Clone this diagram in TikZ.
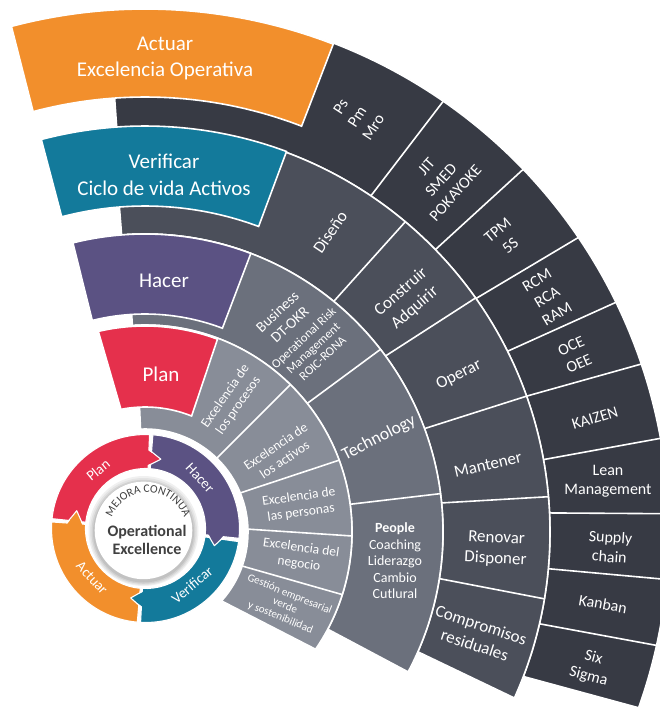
\documentclass[tikz,border=0pt]{standalone}
\usepackage{fontspec}
\setmainfont{Carlito}
\usetikzlibrary{decorations.text}
\definecolor{cOrange}{HTML}{F28F2C}
\definecolor{cTeal}{HTML}{137A9B}
\definecolor{cPurple}{HTML}{5B5283}
\definecolor{cRed}{HTML}{E5304C}
\definecolor{bandA}{HTML}{888D98}
\definecolor{bandB}{HTML}{6B707C}
\definecolor{bandC}{HTML}{4B4F5A}
\definecolor{bandD}{HTML}{373A44}
\definecolor{txtDark}{HTML}{404040}
% #1 style, #2 outer start, #3 outer end, #4 inner end, #5 inner start, #6 inner r, #7 outer r
\newcommand{\secq}[7]{\path[#1] (#2:#7) arc[start angle=#2,end angle=#3,radius=#7] -- (#4:#6) arc[start angle=#4,end angle=#5,radius=#6] -- cycle;}
\newcommand{\divl}[4]{\draw[sepline] (#1:#3) -- (#2:#4);}
\newcommand{\cyctip}[3]{% colour, end angle, tip angle
  \fill[#1] ({#2+1.5}:63) -- (#3:71) -- ({#2+1.5}:79) -- cycle;
  \draw[white, line width=1.1, line join=round] (#2:63) -- (#3:71) -- (#2:79);}
\begin{document}
\begin{tikzpicture}[x=1pt,y=1pt,
  sepline/.style={draw=white, line width=1.6},
  bandbox/.style={draw=white, line width=1.6},
  cycbox/.style={draw=white, line width=1.1},
  tabtxt/.style={text=white, align=center, inner sep=0pt, font=\fontsize{21}{26.5}\selectfont},
  outtxt/.style={text=white, align=center, inner sep=0pt, font=\fontsize{16}{19.5}\selectfont},
  midtxt/.style={text=white, align=center, inner sep=0pt, font=\fontsize{17}{21}\selectfont},
  bandtxt/.style={text=white, align=center, inner sep=0pt, font=\fontsize{13.5}{16}\selectfont},
  cyctxt/.style={text=white, inner sep=0pt, font=\fontsize{14.5}{16}\selectfont}]
\useasboundingbox (0,0) rectangle (660,-713);
\fill[white] (0,0) rectangle (660,-713);
\clip (0,0) rectangle (660,-713);

\begin{scope}[shift={(145,-532)}]
  % bands
  \secq{fill=bandD, bandbox}{94}{-19.6}{-20.9}{94}{405}{524}
  \secq{fill=bandC, bandbox}{94.5}{-24.2}{-23.7}{94.5}{298}{405}
  \secq{fill=bandB, bandbox}{93.5}{-28}{-28}{93.5}{207}{298}
  \secq{fill=bandA, bandbox}{92.5}{-34.5}{-42}{92.5}{103}{207}
  % dividers outer band
  \divl{56.1}{55.3}{405}{524}
  \divl{44.2}{43.8}{405}{524}
  \divl{35.2}{34.2}{405}{524}
  \divl{26.5}{26}{405}{524}
  \divl{19.6}{18.7}{405}{524}
  \divl{10.3}{10.3}{405}{524}
  \divl{2.7}{2}{405}{524}
  \divl{-5.2}{-5.2}{405}{524}
  \divl{-13.1}{-12.5}{405}{524}
  % dividers band 3
  \divl{50.7}{50}{298}{405}
  \divl{36.2}{35.3}{298}{405}
  \divl{20.3}{19.6}{298}{405}
  \divl{5.6}{5}{298}{405}
  \divl{-9}{-9.5}{298}{405}
  % dividers band 2
  \divl{38.4}{37.8}{207}{298}
  \divl{7.7}{7.4}{207}{298}
  % dividers band 1
  \divl{45.8}{45.4}{103}{207}
  \divl{22.3}{20.3}{103}{207}
  \divl{1.6}{-1.1}{103}{207}
  \divl{-19.3}{-17.6}{103}{207}
  % tabs
  \secq{fill=cOrange, bandbox}{104.8}{68.9}{68.9}{104.9}{435}{523}
  \secq{fill=cTeal, bandbox}{104.8}{69.6}{69.6}{104.8}{326}{406}
  \secq{fill=cPurple, bandbox}{104}{69.2}{69.2}{104}{218}{298}
  \secq{fill=cRed, bandbox}{103.1}{69.4}{68.1}{101.1}{125}{206}
\end{scope}

% tab texts
\node[tabtxt] (tActuar) at (165,-58.5) {Actuar\\Excelencia Operativa};
\node[tabtxt] (tVerif) at (164,-175) {Verificar\\Ciclo de vida Activos};
\node[tabtxt] (tHacer) at (164,-281) {Hacer};
\node[tabtxt] (tPlan) at (161,-374) {Plan};

% outer band texts
\node[outtxt, rotate=57] (oPs) at (357,-117) {Ps\\Pm\\Mro};
\node[outtxt, rotate=48] (oJit) at (441,-180) {JIT\\SMED\\POKAYOKE};
\node[outtxt, rotate=40] (oTpm) at (504,-238) {TPM\\5S};
\node[outtxt, rotate=31] (oRcm) at (547,-297) {RCM\\RCA\\RAM};
\node[outtxt, rotate=24] (oOce) at (575,-355) {OCE\\OEE};
\node[outtxt, rotate=17] (oKai) at (595,-418) {KAIZEN};
\node[outtxt] (oLean) at (608,-481) {Lean\\Management};
\node[outtxt, rotate=-4] (oSup) at (610,-547) {Supply\\chain};
\node[outtxt, rotate=-10] (oKan) at (603,-604) {Kanban};
\node[outtxt, rotate=-15] (oSix) at (591,-667) {Six\\Sigma};

% band 3 texts
\node[midtxt, rotate=56] (mDis) at (330,-232) {Diseño};
\node[midtxt, rotate=41] (mCon) at (408,-300) {Construir\\Adquirir};
\node[midtxt, rotate=27] (mOpe) at (459,-375) {Operar};
\node[midtxt, rotate=13] (mMan) at (488,-465) {Mantener};
\node[midtxt, rotate=-3] (mRen) at (496,-549) {Renovar\\Disponer};
\node[midtxt, rotate=-18] (mCom) at (478,-635) {Compromisos\\residuales};

% band 2 texts
\node[text=white, align=center, inner sep=0pt, font=\fontsize{15}{18}\selectfont, rotate=43] (bBus) at (283.5,-318) {Business\\DT-OKR};
\node[text=white, align=center, inner sep=0pt, font=\fontsize{12.5}{14}\selectfont, rotate=43] (bOpr) at (313,-348) {Operational Risk\\Management\\ROIC-RONA};
\node[text=white, inner sep=0pt, font=\fontsize{17.5}{20}\selectfont, rotate=27] (bTec) at (379,-438) {Technology};
\node[text=white, align=center, inner sep=0pt, font=\fontsize{14}{16.5}\selectfont] (bPeo) at (395,-561) {\textbf{People}\\Coaching\\Liderazgo\\Cambio\\Cutlural};

% band 1 texts
\node[bandtxt, rotate=55] (eProc) at (232,-401) {Excelencia de\\los procesos};
\node[bandtxt, rotate=34] (eAct) at (280,-453) {Excelencia de\\los activos};
\node[bandtxt, rotate=8] (ePer) at (300,-505) {Excelencia de\\las personas};
\node[bandtxt, rotate=-8] (eNeg) at (300,-556) {Excelencia del\\negocio};
\node[text=white, align=center, inner sep=0pt, font=\fontsize{11}{12.5}\selectfont, rotate=-22] (eGes) at (285,-606) {Gestión empresarial\\verde\\y sostenibilidad};

% cycle
\begin{scope}[shift={(145.5,-528.5)}]
  \secq{fill=cRed, cycbox}{174}{87.5}{87.5}{174}{60}{94}
  \secq{fill=cPurple, cycbox}{85.5}{-6}{-6}{85.5}{60}{94}
  \secq{fill=cTeal, cycbox}{-8}{-93}{-93}{-8}{60}{94}
  \secq{fill=cOrange, cycbox}{265}{176}{176}{265}{60}{94}
  \cyctip{cRed}{87.5}{77.5}
  \cyctip{cPurple}{-6}{-14}
  \cyctip{cTeal}{-93}{-102}
  \cyctip{cOrange}{176}{165.5}
\end{scope}
\node[cyctxt, rotate=39] (cPlan) at (98,-470) {Plan};
\node[cyctxt, rotate=-47] (cHacer) at (200,-478) {Hacer};
\node[cyctxt, rotate=40] (cVerif) at (192,-585) {Verificar};
\node[cyctxt, rotate=-47] (cActuar) at (92,-578) {Actuar};

% inner disc
\begin{scope}[shift={(143.5,-531)}]
  \fill[gray!12] (0,0) circle (55);
  \fill[gray!22] (0,-0.5) circle (53.5);
  \fill[gray!35] (0,-0.8) circle (52);
  \fill[gray!48] (0,-1) circle (50.5);
  \fill[white] (0,0.6) circle (48.8);
\end{scope}
\begin{scope}[shift={(148,-531)}]
  \path[decorate, decoration={text along path, text align=center,
     text={|\fontsize{11.5}{13}\selectfont\color{txtDark}|MEJORA CONTINUA}}]
     (168:38.5) arc[start angle=168, end angle=12, radius=38.5];
\end{scope}
\node[text=txtDark, align=center, inner sep=0pt, font=\fontsize{16}{18}\selectfont\bfseries] (cOE) at (147,-540) {Operational\\Excellence};
\end{tikzpicture}
\end{document}
